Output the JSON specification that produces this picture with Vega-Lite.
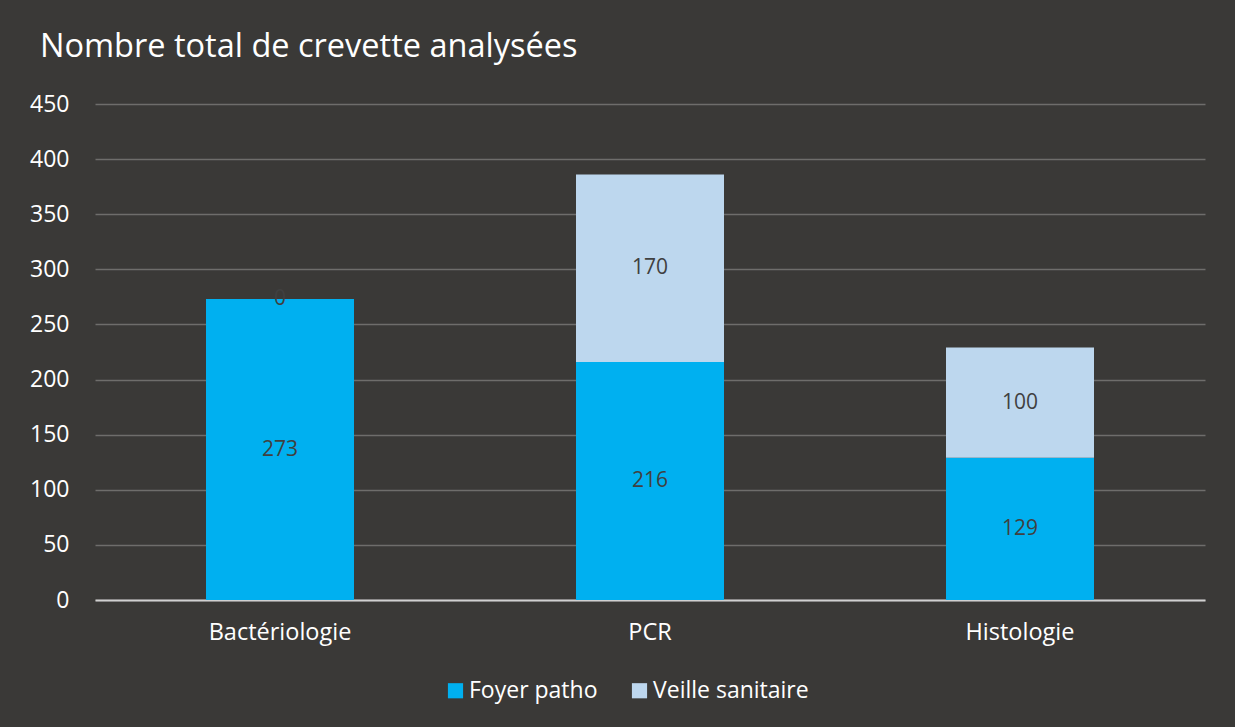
{
  "$schema": "https://vega.github.io/schema/vega-lite/v6.json",
  "autosize": "none",
  "width": 1110,
  "height": 496,
  "padding": {"left": 95, "top": 104, "right": 30, "bottom": 127},
  "background": "#3a3937",
  "title": {
    "text": "Nombre total de crevette analysées",
    "anchor": "start",
    "frame": "group",
    "dx": -55,
    "offset": 30,
    "font": "Open Sans",
    "fontSize": 32.5,
    "fontWeight": "normal",
    "color": "#ffffff"
  },
  "data": {
    "values": [
      {"analyse": "Bactériologie", "serie": "Foyer patho", "rang": 1, "n": 273},
      {"analyse": "Bactériologie", "serie": "Veille sanitaire", "rang": 2, "n": 0},
      {"analyse": "PCR", "serie": "Foyer patho", "rang": 1, "n": 216},
      {"analyse": "PCR", "serie": "Veille sanitaire", "rang": 2, "n": 170},
      {"analyse": "Histologie", "serie": "Foyer patho", "rang": 1, "n": 129},
      {"analyse": "Histologie", "serie": "Veille sanitaire", "rang": 2, "n": 100}
    ]
  },
  "encoding": {
    "x": {
      "field": "analyse",
      "type": "nominal",
      "sort": ["Bactériologie", "PCR", "Histologie"],
      "scale": {"paddingInner": 0.6, "paddingOuter": 0.3},
      "axis": {
        "title": null,
        "labelAngle": 0,
        "labelFont": "Open Sans",
        "labelFontSize": 23.5,
        "labelColor": "#ffffff",
        "labelPadding": 20,
        "ticks": false,
        "domainColor": "#d0d0d0",
        "domainWidth": 2
      }
    },
    "order": {"field": "rang", "type": "quantitative", "sort": "ascending"}
  },
  "layer": [
    {
      "mark": {"type": "bar"},
      "encoding": {
        "y": {
          "field": "n",
          "type": "quantitative",
          "stack": "zero",
          "scale": {"domain": [0, 450]},
          "axis": {
            "title": null,
            "values": [0, 50, 100, 150, 200, 250, 300, 350, 400, 450],
            "labelFont": "Open Sans",
            "labelFontSize": 23,
            "labelColor": "#ffffff",
            "labelPadding": 26,
            "ticks": false,
            "domain": false,
            "gridColor": "#6e6d6b",
            "gridWidth": 1.5
          }
        },
        "color": {
          "field": "serie",
          "type": "nominal",
          "scale": {
            "domain": ["Foyer patho", "Veille sanitaire"],
            "range": ["#00b0f0", "#bdd7ee"]
          },
          "legend": {
            "title": null,
            "orient": "none",
            "direction": "horizontal",
            "legendX": 349,
            "legendY": 575,
            "symbolType": "square",
            "symbolSize": 230,
            "symbolStrokeWidth": 0,
            "labelFont": "Open Sans",
            "labelFontSize": 23,
            "labelColor": "#ffffff",
            "labelOffset": 2,
            "columnPadding": 30
          }
        }
      }
    },
    {
      "mark": {"type": "text", "font": "Open Sans", "fontSize": 21, "color": "#404040"},
      "encoding": {
        "y": {"field": "n", "type": "quantitative", "stack": "zero", "bandPosition": 0.5},
        "detail": {"field": "serie"},
        "text": {"field": "n", "type": "quantitative"}
      }
    }
  ],
  "config": {
    "view": {"stroke": null}
  }
}
